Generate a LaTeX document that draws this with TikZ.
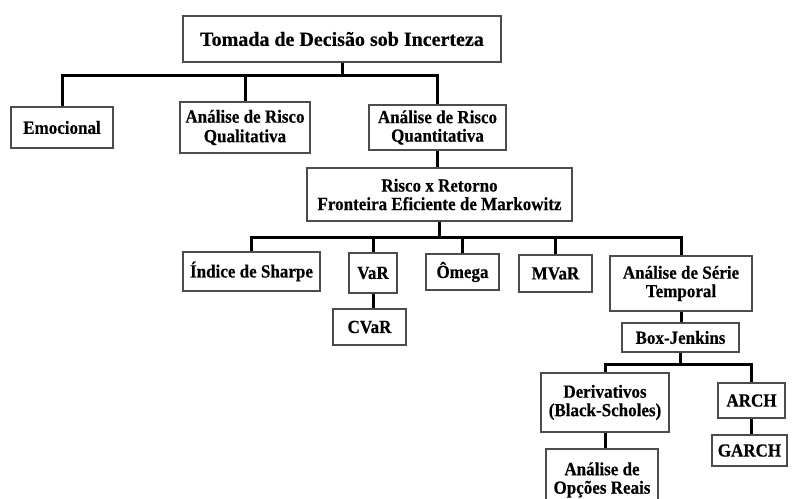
\documentclass[tikz,border=0pt]{standalone}
\usepackage{fontspec}
\setmainfont{Liberation Serif}[BoldFeatures={FakeBold=0.4}]
\newfontfamily\boxfont{Liberation Serif}[FakeStretch=0.92, BoldFeatures={FakeBold=0.4}]
\usetikzlibrary{positioning,calc}

\begin{document}
\begin{tikzpicture}[x=1pt, y=-1pt,
    box/.style={rectangle, draw=black!70, line width=1.3pt, fill=white, align=center, inner sep=2pt, font=\boxfont\bfseries\fontsize{18.5}{18.5}\selectfont},
    link/.style={line width=3pt}]
    \clip (0,0) rectangle (792,498);

    \node[box, minimum width=318pt, minimum height=46pt, font=\rmfamily\bfseries\fontsize{20}{24}\selectfont] (decisao) at (342,39) {Tomada de Decisão sob Incerteza};
    \node[box, minimum width=102pt, minimum height=41pt] (emocional) at (62,127.5) {Emocional};
    \node[box, minimum width=130pt, minimum height=51pt] (qualitativa) at (245,127.5) {Análise de Risco\\[1pt]Qualitativa};
    \node[box, minimum width=137pt, minimum height=45pt] (quantitativa) at (437.5,127.5) {Análise de Risco\\Quantitativa};
    \node[box, minimum width=265pt, minimum height=53pt] (retorno) at (439.5,194.5) {Risco x Retorno\\Fronteira Eficiente de Markowitz};
    \node[box, minimum width=137pt, minimum height=39pt] (sharpe) at (251.5,271.5) {Índice de Sharpe};
    \node[box, minimum width=48pt, minimum height=40pt] (var) at (373,273) {VaR};
    \node[box, minimum width=73pt, minimum height=36pt] (cvar) at (369.5,327) {CVaR};
    \node[box, minimum width=73pt, minimum height=36pt] (omega) at (462.5,272) {Ômega};
    \node[box, minimum width=73pt, minimum height=37pt] (mvar) at (555.5,273.5) {MVaR};
    \node[box, minimum width=142pt, minimum height=55pt] (serie) at (681,283.5) {Análise de Série\\Temporal};
    \node[box, minimum width=117pt, minimum height=29pt] (boxjenkins) at (680.5,337.5) {Box-Jenkins};
    \node[box, minimum width=128pt, minimum height=59pt] (derivativos) at (605,402.5) {Derivativos\\(Black-Scholes)};
    \node[box, minimum width=67pt, minimum height=35pt] (arch) at (751.5,400.5) {ARCH};
    \node[box, minimum width=75pt, minimum height=31pt] (garch) at (749.5,450.5) {GARCH};
    \node[box, minimum width=112pt, minimum height=62pt] (opcoes) at (602,480) {Análise de\\Opções Reais};

    \draw[link] (decisao.south) -- ++(0,13) -| (emocional.north);
    \draw[link] (decisao.south) -- ++(0,13) -| (qualitativa.north);
    \draw[link] (decisao.south) -- ++(0,13) -| (quantitativa.north);
    \draw[link] (quantitativa.south) -- (quantitativa.south |- retorno.north);
    \draw[link] (retorno.south) -- ++(0,16) -| (sharpe.north);
    \draw[link] (retorno.south) -- ++(0,16) -| (var.north);
    \draw[link] (retorno.south) -- ++(0,16) -| (omega.north);
    \draw[link] (retorno.south) -- ++(0,16) -| (mvar.north);
    \draw[link] (retorno.south) -- ++(0,16) -| (serie.north);
    \draw[link] (var.south) -- (var.south |- cvar.north);
    \draw[link] (serie.south) -- (serie.south |- boxjenkins.north);
    \draw[link] (boxjenkins.south) -- ++(0,12) -| (derivativos.north);
    \draw[link] (boxjenkins.south) -- ++(0,12) -| (arch.north);
    \draw[link] (derivativos.south) -- (derivativos.south |- opcoes.north);
    \draw[link] (arch.south) -- (arch.south |- garch.north);
\end{tikzpicture}
\end{document}
